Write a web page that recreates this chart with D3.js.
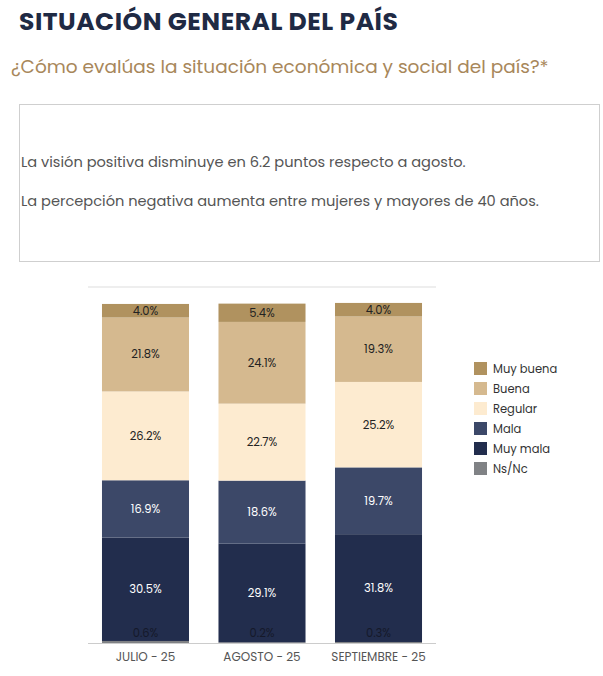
<!DOCTYPE html><html><head><meta charset="utf-8"><script src="https://cdn.jsdelivr.net/npm/d3@7"></script>
<style>body{margin:0;background:#fff;font-family:Poppins,Inter,"Open Sans",sans-serif}</style></head><body><svg id="c" width="603" height="676"></svg>
<script>
const months=["JULIO - 25","AGOSTO - 25","SEPTIEMBRE - 25"];
const seriesNames=["Ns/Nc","Muy mala","Mala","Regular","Buena","Muy buena"];
const nsnc=[0.6,0.2,0.3];
const muyMala=[30.5,29.1,31.8];
const mala=[16.9,18.6,19.7];
const regular=[26.2,22.7,25.2];
const buena=[21.8,24.1,19.3];
const muyBuena=[4.0,5.4,4.0];
const colors={"Ns/Nc":"#808285","Muy mala":"#222d4d","Mala":"#3c4868","Regular":"#fdebd0","Buena":"#d5b98f","Muy buena":"#b0925f"};
const textCol={"Ns/Nc":"#15192a","Muy mala":"#fff","Mala":"#fff","Regular":"#222","Buena":"#222","Muy buena":"#222"};
const vals=[nsnc,muyMala,mala,regular,buena,muyBuena];
const data=months.map((m,i)=>{const o={m};seriesNames.forEach((s,j)=>o[s]=vals[j][i]);return o;});
const svg=d3.select("#c");
svg.append("text").attr("x",19).attr("y",30).attr("font-size",25).attr("font-weight",700).attr("fill","#1f2a44").attr("letter-spacing",0.5).text("SITUACIÓN GENERAL DEL PAÍS");
svg.append("text").attr("x",11).attr("y",73).attr("font-size",18.5).attr("fill","#a8875a").text("¿Cómo evalúas la situación económica y social del país?*");
svg.append("rect").attr("x",19.5).attr("y",104.5).attr("width",580).attr("height",157).attr("fill","#fff").attr("stroke","#cfcfcf");
svg.append("text").attr("x",21).attr("y",167).attr("font-size",14.6).attr("fill","#555").text("La visión positiva disminuye en 6.2 puntos respecto a agosto.");
svg.append("text").attr("x",21).attr("y",206).attr("font-size",14.6).attr("fill","#555").text("La percepción negativa aumenta entre mujeres y mayores de 40 años.");
const x=d3.scaleBand().domain(months).range([88,436]).paddingInner(0.253).paddingOuter(0.12);
const y=d3.scaleLinear().domain([0,105]).range([643,287]);
svg.append("line").attr("x1",88).attr("x2",436).attr("y1",y(105)).attr("y2",y(105)).attr("stroke","#ddd");
const stack=d3.stack().keys(seriesNames)(data);
stack.forEach(layer=>{
 const k=layer.key;
 svg.append("g").selectAll("rect").data(layer).join("rect").attr("x",d=>x(d.data.m)).attr("width",x.bandwidth())
  .attr("y",d=>y(d[1])).attr("height",d=>y(d[0])-y(d[1])).attr("fill",colors[k]);
});
stack.forEach(layer=>{
 const k=layer.key;
 svg.append("g").selectAll("text").data(layer).join("text").attr("x",d=>x(d.data.m)+x.bandwidth()/2)
  .attr("y",d=>k==="Ns/Nc"?y(0)-6:(y(d[0])+y(d[1]))/2+4).attr("text-anchor","middle").attr("font-size",11.5)
  .attr("fill",textCol[k]).text(d=>d.data[k].toFixed(1)+"%");
});
svg.append("line").attr("x1",88).attr("x2",436).attr("y1",643.5).attr("y2",643.5).attr("stroke","#ccc");
const ax=svg.append("g").attr("transform","translate(0,643)").call(d3.axisBottom(x).tickSize(0).tickPadding(9));
ax.select(".domain").remove();
ax.selectAll("text").attr("font-size",12).attr("fill","#555").attr("font-family","Poppins,Inter,sans-serif");
const legendOrder=["Muy buena","Buena","Regular","Mala","Muy mala","Ns/Nc"];
const lg=svg.append("g").attr("transform","translate(474,362)");
legendOrder.forEach((s,i)=>{
 lg.append("rect").attr("x",0).attr("y",i*20).attr("width",13).attr("height",13).attr("fill",colors[s]);
 lg.append("text").attr("x",19).attr("y",i*20+11).attr("font-size",11.5).attr("fill","#333").text(s);
});
</script></body></html>
